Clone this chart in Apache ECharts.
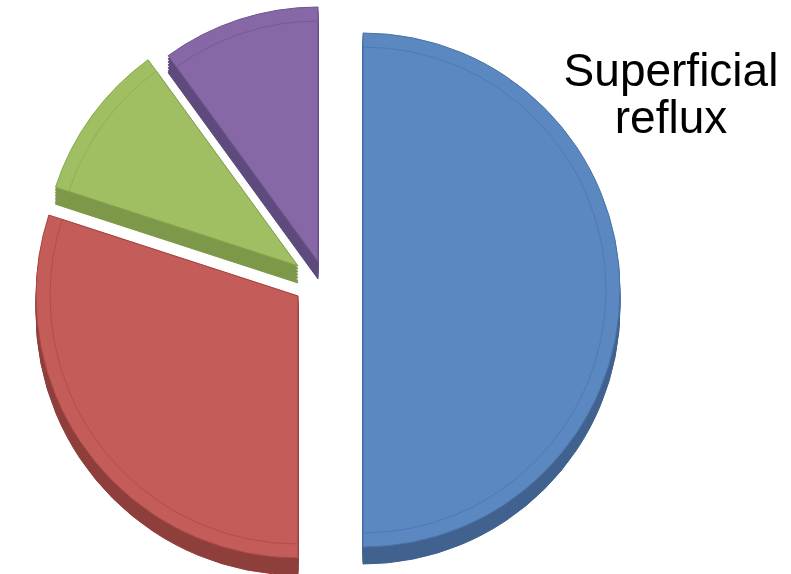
<!DOCTYPE html>
<html>
<head>
<meta charset="utf-8">
<script src="https://cdn.jsdelivr.net/npm/echarts@6/dist/echarts.min.js"></script>
<style>
  html, body { margin: 0; padding: 0; background: #fff; }
  #chart { width: 791px; height: 574px; }
</style>
</head>
<body>
<div id="chart"></div>
<script>
// Data
const categories = ['Segment 1', 'Segment 2', 'Segment 3', 'Segment 4'];
const values = [50, 30, 10, 10];
const titleText = 'Superficial\nreflux';

// Styles
const faceColors = ['#5b88c1', '#c45c59', '#9fbf62', '#8568a5'];
const edgeColors = ['#4a73a8', '#a84744', '#86a64e', '#6e5490'];
const bevelColors = ['rgba(70,110,165,0.55)', 'rgba(165,65,62,0.55)', 'rgba(125,160,75,0.55)', 'rgba(105,80,140,0.55)'];
const sideColors = ['#41628e', '#8e3e3b', '#7d9848', '#5f4a7d'];
const centers = [[363, 290], [298, 296], [298, 266], [318, 262]];
const radii = [257, 262, 255, 255];
const depthSteps = [3, 6, 9, 12, 15, 17];

function sliceSeries(i, dy, r, color, edge, z, bw) {
  return {
    type: 'pie',
    silent: true,
    z: z,
    startAngle: 90,
    clockwise: true,
    center: [centers[i][0], centers[i][1] + dy],
    radius: [0, r],
    avoidLabelOverlap: false,
    label: { show: false },
    labelLine: { show: false },
    emphasis: { disabled: true },
    animation: false,
    data: values.map((v, j) => ({
      value: v,
      name: categories[j],
      itemStyle: j === i
        ? { color: color, borderColor: edge, borderWidth: bw }
        : { color: 'rgba(0,0,0,0)', borderWidth: 0 }
    }))
  };
}

const series = [];
for (let i = 0; i < values.length; i++) {
  depthSteps.forEach(d => series.push(sliceSeries(i, d, radii[i], sideColors[i], sideColors[i], 1, 1)));
}
for (let i = 0; i < values.length; i++) {
  series.push(sliceSeries(i, 0, radii[i], faceColors[i], edgeColors[i], 3, 1));
  series.push(sliceSeries(i, 0, radii[i] - 14, 'rgba(0,0,0,0)', bevelColors[i], 4, 1));
}

const chart = echarts.init(document.getElementById('chart'), null, { renderer: 'canvas' });
chart.setOption({
  backgroundColor: '#ffffff',
  animation: false,
  title: {
    text: titleText,
    left: 666,
    top: 45,
    textAlign: 'center',
    textStyle: {
      fontFamily: 'Liberation Sans, Arial, sans-serif',
      fontSize: 46,
      lineHeight: 47,
      fontWeight: 'normal',
      color: '#000000'
    }
  },
  tooltip: { show: false },
  legend: { show: false },
  series: series
});
</script>
</body>
</html>
